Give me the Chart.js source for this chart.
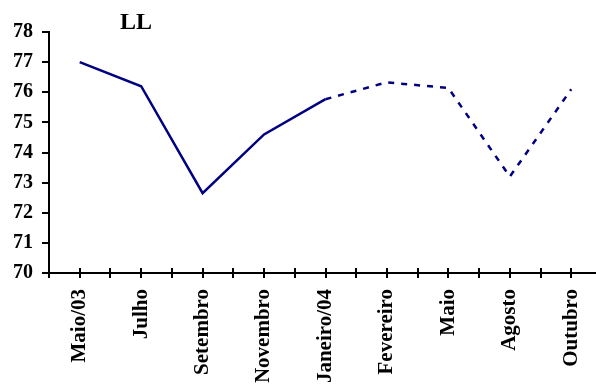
<!DOCTYPE html>
<html>
<head>
<meta charset="utf-8">
<script src="https://cdn.jsdelivr.net/npm/chart.js@4.4.0/dist/chart.umd.min.js"></script>
<style>
  html, body { margin: 0; padding: 0; background: #fff; overflow: hidden; }
  #wrap { position: relative; width: 602px; height: 385px; }
  #title {
    position: absolute; left: 120px; top: 9px;
    font: bold 24px "Liberation Serif", "Times New Roman", serif;
    line-height: 1; color: #000;
  }
</style>
</head>
<body>
<div id="wrap">
  <canvas id="chart" width="602" height="385"></canvas>
  <div id="title">LL</div>
</div>
<script>
const categories = ["Maio/03", "Julho", "Setembro", "Novembro", "Janeiro/04", "Fevereiro", "Maio", "Agosto", "Outubro"];
// observed values (solid) and projected values (dashed)
const observed = [77.0, 76.2, 72.65, 74.6, 75.77, null, null, null, null];
const projected = [null, null, null, null, 75.77, 76.33, 76.14, 73.2, 76.1];
const yTicks = [70, 71, 72, 73, 74, 75, 76, 77, 78];

const serif = '"Liberation Serif", "Times New Roman", serif';
const navy = '#000080';

function toPoints(values) {
    return values.map((v, i) => ({ x: i, y: v }));
}

// draws the part of the x tick marks that goes up into the plot (ticks cross the axis)
const crossTicks = {
    id: 'crossTicks',
    afterDraw(chart) {
        const x = chart.scales.x;
        const ctx = chart.ctx;
        ctx.save();
        ctx.strokeStyle = '#000';
        ctx.lineWidth = 2;
        x.ticks.forEach(t => {
            const px = Math.round(x.getPixelForValue(t.value));
            ctx.beginPath();
            ctx.moveTo(px, x.top);
            ctx.lineTo(px, x.top - 5);
            ctx.stroke();
        });
        ctx.restore();
    }
};

new Chart(document.getElementById('chart'), {
    type: 'line',
    data: {
        datasets: [{
            data: toPoints(observed),
            borderColor: navy,
            borderWidth: 2.5,
            pointRadius: 0,
            tension: 0,
            spanGaps: false
        }, {
            data: toPoints(projected),
            borderColor: navy,
            borderWidth: 2.5,
            borderDash: [6, 7],
            pointRadius: 0,
            tension: 0,
            spanGaps: false
        }]
    },
    options: {
        responsive: false,
        animation: false,
        layout: { padding: { top: 32, left: 0, right: 0, bottom: 0 } },
        plugins: {
            legend: { display: false },
            tooltip: { enabled: false },
            title: { display: false }
        },
        scales: {
            x: {
                type: 'linear',
                min: -0.5,
                max: categories.length - 0.5,
                afterFit(scale) {
                    scale.height = 112;
                    scale.paddingLeft = 0;
                    scale.paddingRight = 0;
                },
                border: { display: true, color: '#000', width: 2 },
                grid: {
                    drawOnChartArea: false,
                    color: '#000',
                    lineWidth: 2,
                    tickLength: 5
                },
                ticks: {
                    stepSize: 0.5,
                    autoSkip: false,
                    minRotation: 90,
                    maxRotation: 90,
                    padding: 11,
                    color: '#000',
                    font: { family: serif, size: 21, weight: 'bold' },
                    callback: (v) => Number.isInteger(v) ? categories[v] : ''
                }
            },
            y: {
                min: yTicks[0],
                max: yTicks[yTicks.length - 1],
                afterFit(scale) { scale.width = 49; },
                afterBuildTicks(scale) { scale.ticks = yTicks.map(v => ({ value: v })); },
                border: { display: true, color: '#000', width: 2 },
                grid: {
                    drawOnChartArea: false,
                    color: '#000',
                    lineWidth: 2,
                    tickLength: 7
                },
                ticks: {
                    padding: 9,
                    color: '#000',
                    font: { family: serif, size: 20, weight: 'bold' }
                }
            }
        }
    },
    plugins: [crossTicks]
});
</script>
</body>
</html>
